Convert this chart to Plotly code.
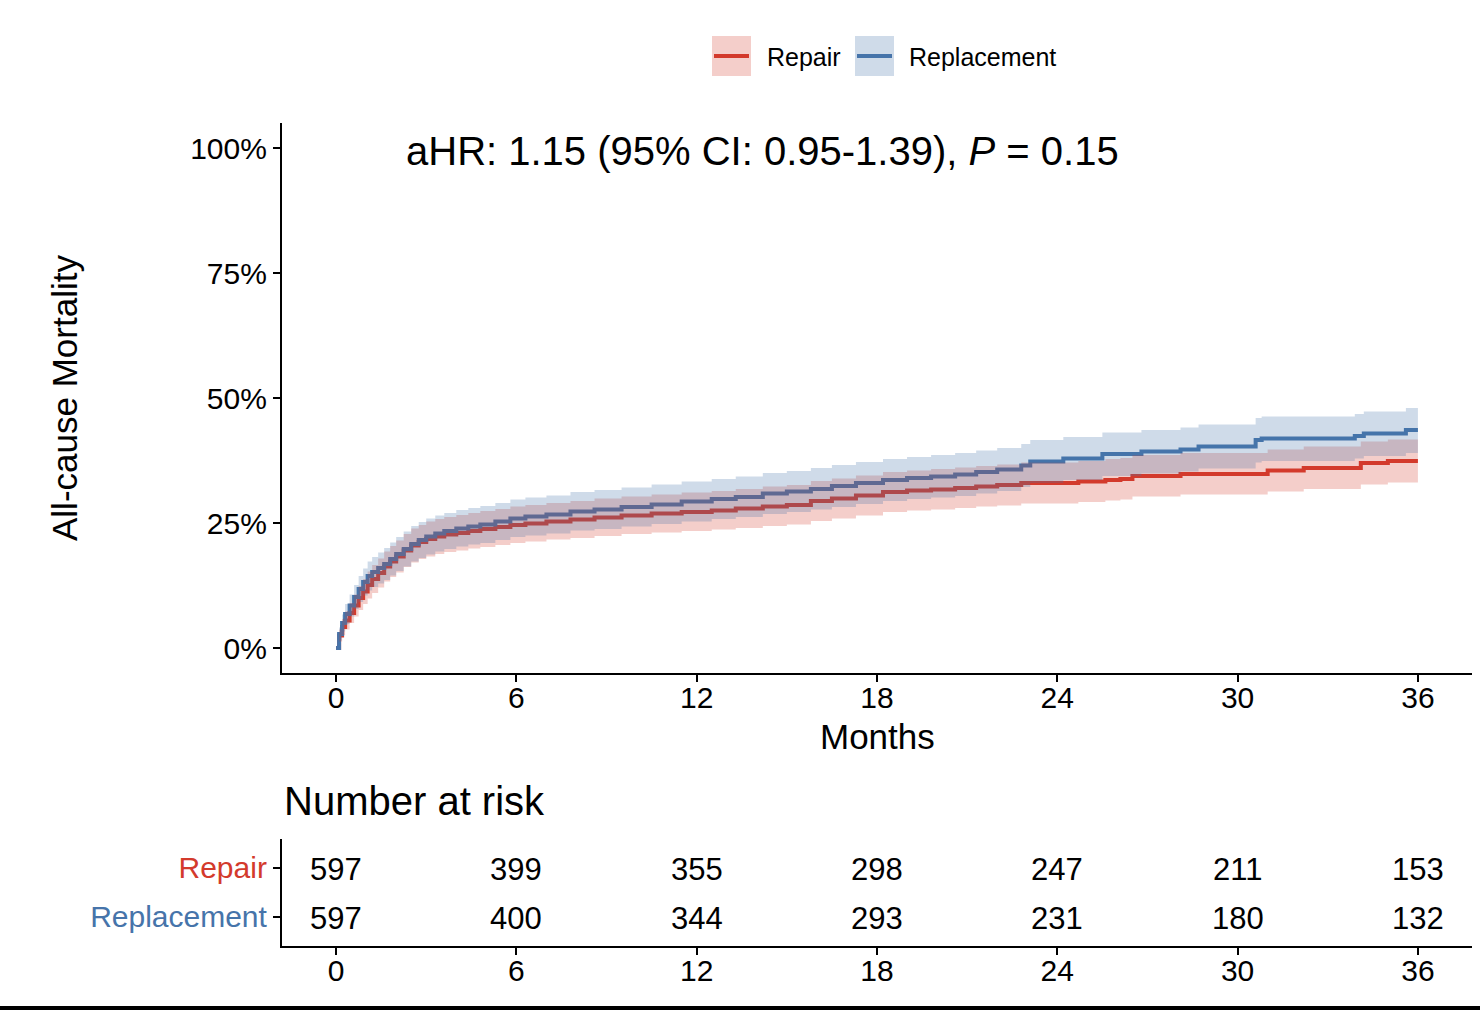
import plotly.graph_objects as go

# ---------------- data ----------------
months_ticks = [0, 6, 12, 18, 24, 30, 36]
pct_ticks = [0, 25, 50, 75, 100]
pct_labels = ["0%", "25%", "50%", "75%", "100%"]
groups = ["Repair", "Replacement"]

repair_t = [0, 0.1, 0.2, 0.3, 0.45, 0.6, 0.75, 0.9, 1.05, 1.2, 1.4, 1.6, 1.8, 2.0,
            2.25, 2.5, 2.75, 3.0, 3.3, 3.6, 4.0, 4.4, 4.8, 5.3, 5.8, 6.3, 7.0, 7.8,
            8.6, 9.5, 10.5, 11.5, 12.5, 13.3, 14.2, 15.0, 15.8, 16.5, 17.3, 18.2,
            19.0, 19.8, 20.6, 21.3, 22.0, 22.8, 24.7, 25.6, 26.1, 26.5, 28.1, 31.0,
            32.2, 34.1, 35.0, 36.0]
repair_v = [0, 2.5, 4.2, 5.5, 7.0, 8.5, 10.0, 11.3, 12.6, 13.8, 15.0, 16.3, 17.3, 18.3,
            19.5, 20.5, 21.2, 21.8, 22.3, 22.7, 23.0, 23.4, 23.8, 24.2, 24.6, 24.9, 25.3, 25.7,
            26.1, 26.5, 26.9, 27.2, 27.5, 27.9, 28.3, 28.6, 29.4, 29.9, 30.5, 31.2,
            31.5, 31.7, 32.0, 32.3, 32.6, 33.0, 33.3, 33.6, 33.8, 34.4, 34.8, 35.5,
            36.0, 37.0, 37.4, 37.4]
repair_lo = [0, 1.3, 2.6, 3.7, 5.0, 6.3, 7.6, 8.8, 9.9, 11.0, 12.1, 13.3, 14.2, 15.1,
             16.2, 17.1, 17.8, 18.3, 18.8, 19.2, 19.5, 19.9, 20.2, 20.6, 21.0, 21.3, 21.7, 22.0,
             22.4, 22.8, 23.1, 23.4, 23.7, 24.0, 24.4, 24.7, 25.4, 25.9, 26.5, 27.2,
             27.5, 27.7, 28.0, 28.3, 28.5, 28.9, 29.2, 29.5, 29.7, 30.3, 30.7, 31.3,
             31.8, 32.7, 33.1, 33.1]
repair_hi = [0, 3.7, 5.8, 7.3, 9.0, 10.7, 12.4, 13.8, 15.3, 16.6, 17.9, 19.3, 20.4, 21.5,
             22.8, 23.9, 24.6, 25.3, 25.8, 26.2, 26.6, 27.0, 27.4, 27.8, 28.3, 28.6, 29.0, 29.4,
             29.9, 30.3, 30.7, 31.1, 31.4, 31.8, 32.3, 32.6, 33.4, 33.9, 34.5, 35.2,
             35.5, 35.8, 36.1, 36.4, 36.7, 37.1, 37.4, 37.8, 38.0, 38.6, 39.0, 39.7,
             40.3, 41.3, 41.7, 41.7]

replace_t = [0, 0.1, 0.2, 0.3, 0.45, 0.6, 0.75, 0.9, 1.05, 1.2, 1.4, 1.6, 1.8, 2.0,
             2.25, 2.5, 2.75, 3.0, 3.3, 3.6, 4.0, 4.4, 4.8, 5.3, 5.8, 6.3, 7.0, 7.8,
             8.6, 9.5, 10.5, 11.5, 12.5, 13.3, 14.2, 15.0, 15.8, 16.5, 17.3, 18.2,
             19.0, 19.8, 20.6, 21.3, 22.0, 22.8, 23.1, 24.2, 25.5, 26.8, 28.1, 28.7,
             30.6, 30.8, 33.9, 34.2, 35.6, 36.0]
replace_v = [0, 2.8, 5.0, 6.8, 8.5, 10.2, 11.8, 13.2, 14.4, 15.2, 16.0, 16.8, 17.8, 18.8,
             19.8, 20.8, 21.6, 22.3, 22.9, 23.4, 23.9, 24.3, 24.7, 25.3, 25.9, 26.3, 26.7, 27.3,
             27.7, 28.2, 28.7, 29.3, 29.8, 30.2, 30.9, 31.3, 31.8, 32.4, 33.0, 33.6,
             34.0, 34.3, 34.7, 35.2, 35.7, 36.5, 37.3, 37.9, 38.8, 39.3, 39.7, 40.3,
             41.6, 41.9, 42.4, 42.9, 43.6, 43.6]
replace_lo = [0, 1.5, 3.3, 4.8, 6.3, 7.8, 9.2, 10.5, 11.5, 12.2, 12.9, 13.6, 14.5, 15.4,
              16.3, 17.3, 18.0, 18.7, 19.3, 19.8, 20.3, 20.7, 21.0, 21.6, 22.2, 22.5, 22.9, 23.5,
              23.8, 24.3, 24.8, 25.3, 25.8, 26.2, 26.8, 27.2, 27.7, 28.2, 28.8, 29.4,
              29.8, 30.1, 30.4, 30.9, 31.4, 32.2, 33.0, 33.6, 34.4, 34.9, 35.3, 35.9,
              37.1, 37.4, 37.9, 38.4, 39.0, 39.0]
replace_hi = [0, 4.1, 6.7, 8.8, 10.7, 12.6, 14.4, 15.9, 17.3, 18.2, 19.1, 20.0, 21.1, 22.2,
              23.3, 24.4, 25.2, 25.9, 26.5, 27.0, 27.6, 28.0, 28.4, 29.0, 29.7, 30.1, 30.5, 31.2,
              31.6, 32.1, 32.7, 33.3, 33.8, 34.3, 35.0, 35.4, 36.0, 36.6, 37.2, 37.8,
              38.2, 38.6, 39.0, 39.5, 40.0, 40.8, 41.6, 42.2, 43.1, 43.6, 44.1, 44.7,
              46.0, 46.3, 46.8, 47.3, 48.0, 48.0]

risk_repair = [597, 399, 355, 298, 247, 211, 153]
risk_replace = [597, 400, 344, 293, 231, 180, 132]

# ---------------- styling ----------------
W, H = 1480, 1010
FONT = "Liberation Sans, Arial, sans-serif"
RED = "#D33A2C"
BLUE = "#4674AA"
RED_FILL = "rgba(211,58,44,0.25)"
BLUE_FILL = "rgba(70,116,170,0.26)"
TICK_SIZE = 30


def px(x):
    return x / W


def py(y):
    return 1 - y / H


fig = go.Figure()

# lines first (ribbons are drawn over them, like the reference)
fig.add_trace(go.Scatter(x=repair_t, y=repair_v, mode="lines", line=dict(color=RED, width=4, shape="hv"),
                         showlegend=False, xaxis="x", yaxis="y"))
fig.add_trace(go.Scatter(x=replace_t, y=replace_v, mode="lines", line=dict(color=BLUE, width=4, shape="hv"),
                         showlegend=False, xaxis="x", yaxis="y"))

# confidence ribbons
for t, lo, hi, fc in [(repair_t, repair_lo, repair_hi, RED_FILL), (replace_t, replace_lo, replace_hi, BLUE_FILL)]:
    fig.add_trace(go.Scatter(x=t, y=lo, mode="lines", line=dict(width=0, shape="hv"),
                             showlegend=False, hoverinfo="skip", xaxis="x", yaxis="y"))
    fig.add_trace(go.Scatter(x=t, y=hi, mode="lines", line=dict(width=0, shape="hv"), fill="tonexty",
                             fillcolor=fc, showlegend=False, hoverinfo="skip", xaxis="x", yaxis="y"))

axis_common = dict(showline=True, linecolor="black", linewidth=2.2, ticks="outside", ticklen=7,
                   tickwidth=1.8, tickcolor="black", showgrid=False, zeroline=False,
                   tickfont=dict(family=FONT, size=TICK_SIZE, color="black"), automargin=False)

xdom = [px(282), px(1472)]
fig.update_layout(
    width=W, height=H,
    margin=dict(l=0, r=0, t=0, b=0),
    paper_bgcolor="white", plot_bgcolor="white",
    font=dict(family=FONT, color="black"),
    showlegend=False,
    xaxis=dict(domain=xdom, range=[-1.8, 37.8], tickvals=months_ticks, anchor="y",
               ticklabelstandoff=-10, **axis_common),
    yaxis=dict(domain=[py(673), py(123)], range=[-5, 105], tickvals=pct_ticks, ticktext=pct_labels,
               anchor="x", **axis_common),
    xaxis2=dict(domain=xdom, range=[-1.8, 37.8], tickvals=months_ticks, anchor="y2",
                ticklabelstandoff=-10, **axis_common),
    yaxis2=dict(domain=[py(946), py(838.5)], range=[0.4, 2.6], tickvals=[2, 1],
                ticktext=[f'<span style="color:{RED}">Repair</span>',
                          f'<span style="color:{BLUE}">Replacement</span>'],
                anchor="x2", **axis_common),
)

ann = []
ann.append(dict(text="aHR: 1.15 (95% CI: 0.95-1.39), <i>P</i> = 0.15", x=px(404), y=py(151),
                xanchor="left", yanchor="middle", font=dict(family=FONT, size=40, color="black")))
ann.append(dict(text="Months", x=px(877), y=py(736), xanchor="center", yanchor="middle",
                font=dict(family=FONT, size=35, color="black")))
ann.append(dict(text="All-cause Mortality", x=px(64), y=py(398), textangle=-90, xanchor="center",
                yanchor="middle", font=dict(family=FONT, size=35, color="black")))
ann.append(dict(text="Number at risk", x=px(282), y=py(801), xanchor="left", yanchor="middle",
                font=dict(family=FONT, size=40, color="black")))
# manual legend labels
ann.append(dict(text=groups[0], x=px(765), y=py(57), xanchor="left", yanchor="middle",
                font=dict(family=FONT, size=25, color="black")))
ann.append(dict(text=groups[1], x=px(907), y=py(57), xanchor="left", yanchor="middle",
                font=dict(family=FONT, size=25, color="black")))
for a in ann:
    a.update(xref="paper", yref="paper", showarrow=False)

# risk table numbers, placed through the table's own axes
for row_y, counts in [(2, risk_repair), (1, risk_replace)]:
    for m, n in zip(months_ticks, counts):
        ann.append(dict(text=str(n), x=m, y=row_y, xref="x2", yref="y2", showarrow=False,
                        xanchor="center", yanchor="middle", yshift=-2,
                        font=dict(family=FONT, size=31, color="black")))

shapes = []
# legend keys: ribbon box with the line over it
for x0, fc, lc in [(712, RED_FILL, RED), (855, BLUE_FILL, BLUE)]:
    shapes.append(dict(type="rect", xref="paper", yref="paper", x0=px(x0), x1=px(x0 + 39),
                       y0=py(76), y1=py(36), fillcolor=fc, line=dict(width=0), layer="above"))
    shapes.append(dict(type="line", xref="paper", yref="paper", x0=px(x0 + 2), x1=px(x0 + 37),
                       y0=py(56), y1=py(56), line=dict(color=lc, width=4), layer="above"))
# black rule at the very bottom of the picture
shapes.append(dict(type="rect", xref="paper", yref="paper", x0=0, x1=1, y0=0, y1=4.0 / H,
                   fillcolor="black", line=dict(width=0)))

fig.update_layout(annotations=ann, shapes=shapes)

fig.write_html("out.html", config={"displayModeBar": False},
               post_script="document.body.style.margin='0';document.body.style.overflow='hidden';")
